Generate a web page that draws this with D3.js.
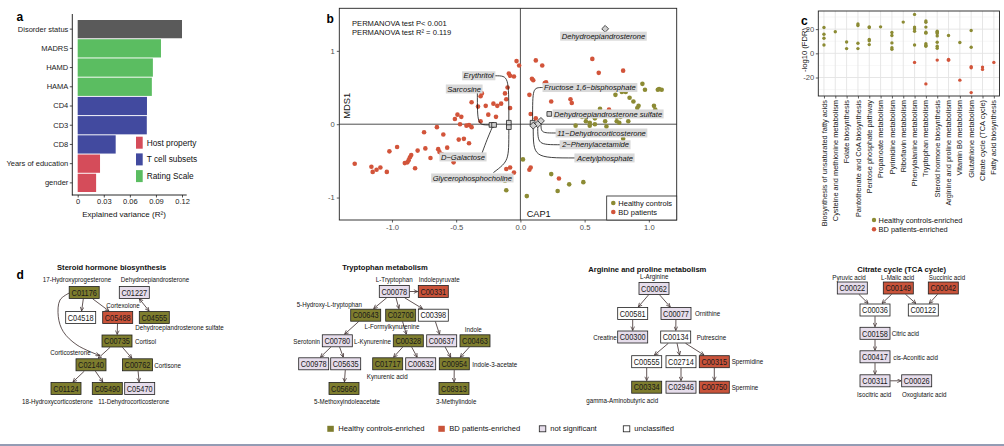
<!DOCTYPE html>
<html><head><meta charset="utf-8">
<script src="https://cdn.jsdelivr.net/npm/d3@7/dist/d3.min.js"></script>
<style>
html,body{margin:0;padding:0;background:#fff;}
svg{display:block;}
text{font-family:"Liberation Sans",Arial,Helvetica,sans-serif;}
</style></head><body>
<svg id="fig" width="1004" height="446" xmlns="http://www.w3.org/2000/svg"></svg>
<script>
// ================= DATA =================
// ---- Panel a ----
const aCategories = ["Disorder status","MADRS","HAMD","HAMA","CD4","CD3","CD8","Years of education","gender"];
const aValues = [0.120,0.0958,0.0865,0.0853,0.0797,0.0795,0.0437,0.0257,0.0212];
const aGroups = ["Disorder","Rating Scale","Rating Scale","Rating Scale","T cell subsets","T cell subsets","T cell subsets","Host property","Host property"];
const aTicks = [0,0.03,0.06,0.09,0.12];
const aLegendGroups = ["Host property","T cell subsets","Rating Scale"];

// ---- Panel b ----
const bPatients = [[-0.03,0.86],[-0.01,0.80],[0.12,0.87],[0.17,0.80],[-0.09,0.69],[-0.08,0.66],[-0.05,0.65],[0.09,0.62],[0.10,0.60],[0.19,0.56],[-0.10,0.50],[0.07,0.40],[0.24,0.31],[-0.12,0.42],[-0.30,0.42],[-0.31,0.38],[-0.38,0.30],[-0.33,0.24],[-0.27,0.25],[-0.21,0.28],[-0.18,0.25],[-0.15,0.28],[-0.11,0.34],[-0.08,0.22],[-0.25,0.13],[-0.19,0.10],[-0.49,0.13],[-0.46,0.10],[-0.51,0.07],[-0.47,0.00],[-0.42,-0.02],[-0.40,-0.01],[-0.38,-0.04],[-0.31,0.04],[-0.65,-0.04],[-0.60,-0.14],[-0.75,-0.11],[-0.48,-0.21],[-0.44,-0.20],[-0.40,-0.26],[-0.96,-0.31],[-1.02,-0.37],[-0.74,-0.33],[-0.64,-0.34],[-0.57,-0.32],[-0.80,-0.36],[-0.63,-0.38],[-0.61,-0.41],[-0.85,-0.42],[-0.86,-0.45],[-0.87,-0.49],[-0.88,-0.52],[-0.90,-0.53],[-0.70,-0.46],[-0.82,-0.60],[-0.52,-0.52],[-1.29,-0.54],[-1.16,-0.58],[-1.15,-0.65],[-1.12,-0.62],[-1.09,-0.59],[-1.04,-0.65],[-0.11,-0.61],[-0.08,-0.59],[-0.05,-0.66],[0.07,-0.62],[0.08,-0.59],[0.30,-0.74],[0.56,0.89],[0.61,0.70],[0.80,0.73],[0.20,0.57],[0.39,0.34],[0.40,0.29],[0.08,0.14],[0.12,0.08],[0.69,0.20]];
const bHealthy = [[-0.12,-0.77],[-0.11,-0.90],[0.02,-0.48],[0.05,-0.98],[0.24,-0.68],[0.29,-0.91],[0.38,-0.82],[0.49,-0.79],[0.80,-0.20],[0.95,0.55],[0.97,0.47],[1.07,0.47],[1.08,0.48],[1.10,0.47],[0.79,0.44],[0.82,0.44],[0.74,0.40],[0.85,0.36],[0.88,0.31],[0.92,0.25],[0.91,0.22],[1.04,0.25],[1.05,0.20],[0.62,0.21],[0.52,0.16],[0.48,0.10],[0.51,0.10],[0.58,0.08],[0.57,0.13],[0.73,0.15],[0.75,0.10],[0.78,0.10],[0.75,0.04],[0.77,0.02],[0.84,0.04],[0.51,0.04],[0.54,0.02],[0.58,0.00],[0.43,-0.02],[0.54,-0.02],[0.67,-0.03],[0.66,0.04],[0.67,0.15]];
const bMetabolites = ["Erythritol","Sarcosine","D\u2212Galactose","Glycerophosphocholine","Fructose 1,6\u2212bisphosphate","Dehydroepiandrosterone sulfate","11\u2212Dehydrocorticosterone","2\u2212Phenylacetamide","Acetylphosphate","Dehydroepiandrosterone"];
const bMetX = [-0.09,-0.225,-0.205,-0.09,0.095,0.225,0.16,0.135,0.10,0.66];
const bMetY = [0.02,-0.01,-0.01,-0.04,0.02,0.14,0.045,0.00,-0.02,1.30];
const bMetShape = ["square","square","square","square","square","square","diamond","diamond","diamond","diamond"];
const bXTicks = [-1,-0.5,0,0.5,1];
const bYTicks = [-1,0,1];
const bStats = ["PERMANOVA test P< 0.001","PERMANOVA test R\u00b2 = 0.119"];
const bGroups = ["Healthy controls","BD patients"];

// ---- Panel c ----
const cCategories = ["Biosynthesis of unsaturated fatty acids","Cysteine and methionine metabolism","Folate biosynthesis","Pantothenate and CoA biosynthesis","Pentose phosphate pathway","Propanoate metabolism","Pyrimidine metabolism","Riboflavin metabolism","Phenylalanine metabolism","Tryptophan metabolism","Steroid hormone biosynthesis","Arginine and proline metabolism","Vitamin B6 metabolism","Glutathione metabolism","Citrate cycle (TCA cycle)","Fatty acid biosynthesis"];
const cHealthy = [[21.4,15.8,12.5,6.9],[17.8],[9.4,3.9],[24.2,23.0,8.3,3.9],[21.9,21.4,11.4,10.3,7.2],[21.9],[17.2,14.7,8.6,4.7,3.3],[25.8],[32.2,21.7,20.3,18.3,6.9],[26.7,25.6,21.7,17.5,16.7,8.0,6.7,5.8],[18.3,17.5,16.4,14.4,9.2,5.8,4.2],[14.7],[8.9],[18.9,5.0],[],[]];
const cPatients = [[],[],[],[],[],[],[],[],[-7.5],[-25.3],[-5.6],[-5.0,-5.8],[-22.2],[-11.1,-11.9,-32.5],[-11.4,-13.3],[-7.5]];
const cYTicks = [-20,0,20];
const cGroups = ["Healthy controls-enriched","BD patients-enriched"];

// ---- Panel d ----
const dPathways = ["Steroid hormone biosynthesis","Tryptophan metabolism","Arginine and proline metabolism","Citrate cycle (TCA cycle)"];
const dStatusLabels = ["Healthy controls-enriched","BD patients-enriched","not significant","unclassified"];
const steroidIds = ["C01176","C01227","C04518","C05488","C04555","C00735","C02140","C00762","C01124","C05490","C05470"];
const steroidStatus = ["H","N","U","B","H","H","H","H","H","H","N"];
const steroidEdges = [["C01176","C04518"],["C01176","C05488"],["C01227","C04555","both"],["C05488","C00735"],["C00735","C02140"],["C00735","C00762"],["C01176","C02140","curve"],["C02140","C01124"],["C02140","C05490"],["C00762","C05470"]];
const steroidNames = ["17-Hydroxyprogesterone","Dehydroepiandrosterone","Cortexolone","Dehydroepiandrosterone sulfate","Cortisol","Corticosterone","Cortisone","18-Hydroxycorticosterone","11-Dehydrocorticosterone"];
const tryptoIds = ["C00078","C00331","C00643","C02700","C00398","C00780","C00328","C00637","C00463","C00978","C05635","C01717","C00632","C00954","C05660","C08313"];
const tryptoStatus = ["N","B","H","H","U","N","H","N","H","N","N","H","N","H","H","H"];
const tryptoEdges = [["C00078","C00331"],["C00078","C00643"],["C00078","C02700"],["C00078","C00398"],["C00643","C00780"],["C02700","C00328"],["C00398","C00637"],["C00780","C00978"],["C00780","C05635"],["C00328","C01717"],["C00328","C00632"],["C00637","C00954"],["C00463","C00954"],["C05635","C05660"],["C00954","C08313"]];
const tryptoNames = ["L-Tryptophan","Indolepyruvate","5-Hydroxy-L-tryptophan","L-Formylkynurenine","Indole","Serotonin","L-Kynurenine","Kynurenic acid","Indole-3-acetate","5-Methoxyindoleacetate","3-Methylindole"];
const arginineIds = ["C00062","C00581","C00077","C00300","C00134","C00555","C02714","C00315","C00334","C02946","C00750"];
const arginineStatus = ["N","U","N","N","U","U","U","B","H","N","B"];
const arginineEdges = [["C00062","C00581"],["C00062","C00077"],["C00581","C00300"],["C00077","C00134"],["C00134","C00555"],["C00134","C02714"],["C00134","C00315"],["C00555","C00334"],["C02714","C02946"],["C00315","C00750"]];
const arginineNames = ["L-Arginine","Ornithine","Creatine","Putrescine","Spermidine","Spermine","gamma-Aminobutyric acid"];
const citrateIds = ["C00022","C00149","C00042","C00036","C00122","C00158","C00417","C00311","C00026"];
const citrateStatus = ["N","B","B","U","U","N","N","N","N"];
const citrateEdges = [["C00022","C00036"],["C00149","C00036"],["C00149","C00122"],["C00042","C00122"],["C00036","C00158"],["C00158","C00417"],["C00417","C00311"],["C00311","C00026"]];
const citrateNames = ["Pyruvic acid","L-Malic acid","Succinic acid","Citric acid","cis-Aconitic acid","Isocitric acid","Oxoglutaric acid"];

// ================= LAYOUT (positions only) =================
const bLabelPos = [[-0.209,0.66,"end"],[-0.306,0.48,"end"],[-0.275,-0.446,"end"],[-0.065,-0.733,"end"],[0.184,0.50,"start"],[0.262,0.14,"start"],[0.286,-0.12,"start"],[0.325,-0.28,"start"],[0.44,-0.46,"start"],[0.647,1.20,"middle"]];
const bLeaderPath = [[-0.197,0.66,-0.09,0.66,-0.09,0.045],[-0.335,0.445,-0.335,-0.01,-0.24,-0.01],[-0.30,-0.40,-0.26,-0.21,-0.215,-0.025],[-0.21,-0.66,-0.09,-0.50,-0.09,-0.065],[0.177,0.50,0.095,0.50,0.095,0.045],[0.16,0.03,0.16,-0.12,0.282,-0.12],[0.135,-0.01,0.135,-0.28,0.32,-0.28],[0.10,-0.03,0.10,-0.46,0.435,-0.46],null,null];

const dNodePos = {
 C01176:[84.2,292.5],C01227:[134.3,292.5],C04518:[80.7,317.5],C05488:[117.7,317.5],C04555:[154.3,317.5],C00735:[117,341],C02140:[91,364.8],C00762:[137.5,364.8],C01124:[66,388.5],C05490:[107.3,388.5],C05470:[139.7,388.5],
 C00078:[394.3,291.5],C00331:[433.3,291.5],C00643:[365.7,315.2],C02700:[400.7,315.2],C00398:[433.3,315.2],C00780:[337.3,340.8],C00328:[408.3,340.8],C00637:[441.7,340.8],C00463:[475,340.8],C00978:[313.7,363.8],C05635:[345.7,363.8],C01717:[387.7,363.8],C00632:[420.7,363.8],C00954:[454.3,363.8],C05660:[344,388.5],C08313:[454,388.5],
 C00062:[654,288.5],C00581:[632.7,313.5],C00077:[676,313.5],C00300:[632.7,337],C00134:[675.7,337],C00555:[646.7,361.7],C02714:[681,361.7],C00315:[714.3,361.7],C00334:[646.7,387.2],C02946:[681,387.2],C00750:[714.3,387.2],
 C00022:[852.3,288],C00149:[898.3,288],C00042:[943.3,288],C00036:[875,310],C00122:[923.3,310],C00158:[875,333.3],C00417:[875,356.8],C00311:[875,380.8],C00026:[916.7,380.8]
};
const steroidNamePos = [[77,279,"middle"],[155,279,"middle"],[123,305,"middle"],[179.5,327.7,"middle"],[135,341,"start"],[70.5,352.3,"middle"],[154.3,364.8,"start"],[57.5,401,"middle"],[133.7,401,"middle"]];
const tryptoNamePos = [[394.2,279,"middle"],[439.2,279,"middle"],[329.3,304.3,"middle"],[392,326.7,"middle"],[473.3,329,"middle"],[320,340.8,"end"],[354,340.8,"start"],[387.2,376.7,"middle"],[472.3,363.8,"start"],[347,401,"middle"],[456.2,401,"middle"]];
const arginineNamePos = [[654.2,276.7,"middle"],[695,313.5,"start"],[616.7,337,"end"],[696.7,337,"start"],[731.7,361.7,"start"],[731.7,387.2,"start"],[622.2,400,"middle"]];
const citrateNamePos = [[849,277.3,"middle"],[897.7,277.3,"middle"],[947,277.3,"middle"],[891.7,333.3,"start"],[893.3,356.8,"start"],[874.2,394.3,"middle"],[924.2,394.3,"middle"]];
const dTitlePos = [[111.7,267.7],[385,267.7],[647.3,269],[901.7,269]];
const steroidCurve = [[69.3,293],[60,300],[58.3,316.7],[63.3,331.7],[77,345],[99.5,355.5]];

// ================= DRAW =================
const svg = d3.select("#fig");
svg.append("rect").attr("width",1004).attr("height",446).attr("fill","#fff");
const C_H = "#8C8B34", C_B = "#D2543A";

// ---------- Panel a ----------
(function(){
  const g = svg.append("g");
  const x = d3.scaleLinear().domain([-0.0062,0.1254]).range([72.3,186.7]);
  const y = d3.scaleBand().domain(aCategories).range([14,195]).paddingInner(0.05).paddingOuter(0.234).align(0.667);
  const col = d3.scaleOrdinal().domain(["Disorder","Host property","T cell subsets","Rating Scale"]).range(["#5A5A5A","#D54C5A","#424A9F","#5BBD61"]);
  g.selectAll("rect.bar").data(aCategories).join("rect").attr("class","bar")
    .attr("x",x(0)).attr("y",d=>y(d)).attr("height",y.bandwidth())
    .attr("width",(d,i)=>x(aValues[i])-x(0)).attr("fill",(d,i)=>col(aGroups[i]));
  const xa = g.append("g").attr("transform","translate(0,195)")
    .call(d3.axisBottom(x).tickValues(aTicks).tickFormat(d=>d===0?"0":d.toFixed(2)).tickSize(2.5).tickSizeOuter(0).tickPadding(1.5));
  const ya = g.append("g").attr("transform","translate(72.3,0)")
    .call(d3.axisLeft(y).tickSize(2.5).tickSizeOuter(0).tickPadding(1.5));
  [xa,ya].forEach(a=>{a.select(".domain").remove();a.selectAll("line").attr("stroke","#222").attr("stroke-width",0.8);
    a.selectAll("text").attr("fill","#1a1a1a").style("font-size","7.5px");});
  g.append("line").attr("x1",72.3).attr("x2",72.3).attr("y1",14).attr("y2",195.4).attr("stroke","#111").attr("stroke-width",0.9);
  g.append("line").attr("x1",71.9).attr("x2",186.7).attr("y1",195).attr("y2",195).attr("stroke","#111").attr("stroke-width",0.9);
  g.append("text").attr("x",124).attr("y",216.5).attr("text-anchor","middle").style("font-size","8px").attr("fill","#111")
    .text("Explained variance (R\u00b2)");
  const lg = g.selectAll("g.lg").data(aLegendGroups).join("g").attr("class","lg")
    .attr("transform",(d,i)=>`translate(136,${136.7+i*16.7})`);
  lg.append("rect").attr("width",6.7).attr("height",12).attr("fill",d=>col(d));
  lg.append("text").attr("x",10.7).attr("y",6).attr("dy","0.35em").style("font-size","8.3px").attr("fill","#111").text(d=>d);
  g.append("text").attr("x",16.5).attr("y",20.8).style("font-size","12px").style("font-weight","bold").text("a");
})();

// ---------- Panel b ----------
(function(){
  const g = svg.append("g");
  const x = d3.scaleLinear().domain([-1.41,1.217]).range([339.3,676.7]);
  const y = d3.scaleLinear().domain([-1.306,1.58]).range([220,8.3]);
  const [x0,x1] = x.range(), [y0,y1] = y.range();
  g.append("line").attr("x1",x(0)).attr("x2",x(0)).attr("y1",y1).attr("y2",y0).attr("stroke","#222").attr("stroke-width",0.8);
  g.append("line").attr("x1",x0).attr("x2",x1).attr("y1",y(0)).attr("y2",y(0)).attr("stroke","#222").attr("stroke-width",0.8);
  g.selectAll("circle.p").data(bPatients).join("circle").attr("class","p")
    .attr("cx",d=>x(d[0])).attr("cy",d=>y(d[1])).attr("r",2.3).attr("fill",C_B);
  g.selectAll("circle.h").data(bHealthy).join("circle").attr("class","h")
    .attr("cx",d=>x(d[0])).attr("cy",d=>y(d[1])).attr("r",2.3).attr("fill",C_H);
  bLeaderPath.forEach(p=>{
    if(!p) return;
    g.append("path").attr("d",`M${x(p[0])},${y(p[1])}C${x(p[2])},${y(p[3])} ${x(p[2])},${y(p[3])} ${x(p[4])},${y(p[5])}`)
      .attr("fill","none").attr("stroke","#111").attr("stroke-width",0.8);
  });
  bMetabolites.forEach((m,i)=>{
    const sym = bMetShape[i]==="square" ? d3.symbol(d3.symbolSquare,22) : d3.symbol(d3.symbolDiamond2,30);
    g.append("path").attr("d",sym()).attr("transform",`translate(${x(bMetX[i])},${y(bMetY[i])})`)
      .attr("fill","#cfcfcf").attr("stroke","#222").attr("stroke-width",0.8);
  });
  bMetabolites.forEach((m,i)=>{
    const lp = bLabelPos[i];
    const lgp = g.append("g");
    const t = lgp.append("text").attr("x",x(lp[0])).attr("y",y(lp[1])).attr("dy","0.35em")
      .attr("text-anchor",lp[2]).style("font-size","7.6px").style("font-style","italic").attr("fill","#111").text(m);
    const bb = t.node().getBBox();
    lgp.insert("rect","text").attr("x",bb.x-1.5).attr("y",y(lp[1])-4.5).attr("width",bb.width+3).attr("height",9).attr("fill","#d9d9d9");
  });
  g.append("rect").attr("x",x0).attr("y",y1).attr("width",x1-x0).attr("height",y0-y1).attr("fill","none").attr("stroke","#222").attr("stroke-width",0.9);
  const xa = g.append("g").attr("transform",`translate(0,${y0})`)
    .call(d3.axisBottom(x).tickValues(bXTicks).tickFormat(d=>d.toFixed(1)).tickSize(2.5).tickSizeOuter(0).tickPadding(2));
  const ya = g.append("g").attr("transform",`translate(${x0},0)`)
    .call(d3.axisLeft(y).tickValues(bYTicks).tickFormat(d=>String(d)).tickSize(2.5).tickSizeOuter(0).tickPadding(2));
  [xa,ya].forEach(a=>{a.select(".domain").remove();a.selectAll("line").attr("stroke","#333").attr("stroke-width",0.8);
    a.selectAll("text").attr("fill","#4d4d4d").style("font-size","7.6px");});
  bStats.forEach((s,i)=>g.append("text").attr("x",352).attr("y",26+i*9).style("font-size","7.6px").attr("fill","#111").text(s));
  g.append("text").attr("transform","translate(350.3,105.7) rotate(-90)").attr("text-anchor","middle").style("font-size","9.4px").attr("fill","#111").text("MDS1");
  g.append("text").attr("x",526.7).attr("y",216.7).style("font-size","9.2px").attr("fill","#111").text("CAP1");
  g.append("rect").attr("x",606.7).attr("y",196).attr("width",x1-606.7).attr("height",24).attr("fill","#fff").attr("stroke","#222").attr("stroke-width",0.8);
  bGroups.forEach((s,i)=>{
    g.append("circle").attr("cx",613.3).attr("cy",203+i*9).attr("r",2.3).attr("fill",i===0?C_H:C_B);
    g.append("text").attr("x",618.3).attr("y",203+i*9).attr("dy","0.35em").style("font-size","7.5px").attr("fill","#111").text(s);
  });
  g.append("text").attr("x",326.5).attr("y",22.7).style("font-size","12px").style("font-weight","bold").text("b");
})();

// ---------- Panel c ----------
(function(){
  const g = svg.append("g");
  const x = d3.scalePoint().domain(cCategories).range([818.3,999.5]).padding(0.5);
  const y = d3.scaleLinear().domain([-35.3,35]).range([96,11]);
  const [y0,y1] = y.range();
  [-30,-10,10,30].forEach(v=>g.append("line").attr("x1",818.3).attr("x2",999.5).attr("y1",y(v)).attr("y2",y(v)).attr("stroke","#efefef").attr("stroke-width",0.5));
  cYTicks.forEach(v=>g.append("line").attr("x1",818.3).attr("x2",999.5).attr("y1",y(v)).attr("y2",y(v)).attr("stroke","#e3e3e3").attr("stroke-width",0.9));
  g.selectAll("line.vg").data(cCategories).join("line").attr("class","vg").attr("x1",d=>x(d)).attr("x2",d=>x(d)).attr("y1",y1).attr("y2",y0).attr("stroke","#e3e3e3").attr("stroke-width",0.9);
  cCategories.forEach((c,i)=>{
    cHealthy[i].forEach(v=>g.append("circle").attr("cx",x(c)).attr("cy",y(v)).attr("r",1.7).attr("fill",C_H));
    cPatients[i].forEach(v=>g.append("circle").attr("cx",x(c)).attr("cy",y(v)).attr("r",1.7).attr("fill",C_B));
  });
  g.append("rect").attr("x",818.3).attr("y",y1).attr("width",999.5-818.3).attr("height",y0-y1).attr("fill","none").attr("stroke","#222").attr("stroke-width",0.9);
  const xa = g.append("g").attr("transform",`translate(0,${y0})`).call(d3.axisBottom(x).tickSize(2.5).tickSizeOuter(0).tickFormat(""));
  const ya = g.append("g").attr("transform","translate(818.3,0)").call(d3.axisLeft(y).tickValues(cYTicks).tickFormat(d=>String(d)).tickSize(2.5).tickSizeOuter(0).tickPadding(1.5));
  [xa,ya].forEach(a=>{a.select(".domain").remove();a.selectAll("line").attr("stroke","#333").attr("stroke-width",0.8);
    a.selectAll("text").attr("fill","#4d4d4d").style("font-size","7.6px");});
  g.selectAll("text.xl").data(cCategories).join("text").attr("class","xl")
    .attr("transform",d=>`translate(${x(d)+2.6},${y0+4}) rotate(-90)`).attr("text-anchor","end")
    .style("font-size","7.4px").attr("fill","#1a1a1a").text(d=>d);
  g.append("text").attr("transform","translate(806.5,50) rotate(-90)").attr("text-anchor","middle").style("font-size","7.6px").attr("fill","#111").text("-log10 (FDR)");
  cGroups.forEach((s,i)=>{
    g.append("circle").attr("cx",874).attr("cy",220+i*9.3).attr("r",2.2).attr("fill",i===0?C_H:C_B);
    g.append("text").attr("x",878.6).attr("y",220+i*9.3).attr("dy","0.35em").style("font-size","7.4px").attr("fill","#111").text(s);
  });
  g.append("text").attr("x",801).attr("y",25).style("font-size","12px").style("font-weight","bold").text("c");
})();

// ---------- Panel d ----------
(function(){
  const g = svg.append("g");
  const fillOf = {H:"#7E7D2E",B:"#C9533A",N:"#E6DDEB",U:"#FFFFFF"};
  const statusKeys = ["H","B","N","U"];
  const NARROW = 0.82;
  const defs = svg.append("defs");
  defs.append("marker").attr("id","arr").attr("viewBox","0 0 6 6").attr("refX",5.6).attr("refY",3)
    .attr("markerWidth",4.6).attr("markerHeight",4.6).attr("markerUnits","userSpaceOnUse").attr("orient","auto-start-reverse")
    .append("path").attr("d","M0.6,0.6L5.6,3L0.6,5.4").attr("fill","none").attr("stroke","#3a2a2a").attr("stroke-width",0.9);
  const HW=15, HH=6;
  function clip(c,o,hw,hh){const dx=o[0]-c[0],dy=o[1]-c[1];
    const t=Math.min(dx?hw/Math.abs(dx):Infinity, dy?hh/Math.abs(dy):Infinity);return [c[0]+dx*t,c[1]+dy*t];}
  function narrowText(parent,x,y,anchor,size,txt){
    return parent.append("text").attr("transform",`translate(${x},${y}) scale(${NARROW},1)`)
      .attr("dy","0.36em").attr("text-anchor",anchor).style("font-size",size+"px").attr("fill","#111").text(txt);
  }
  const pathways = [
    {ids:steroidIds,status:steroidStatus,edges:steroidEdges,names:steroidNames,npos:steroidNamePos},
    {ids:tryptoIds,status:tryptoStatus,edges:tryptoEdges,names:tryptoNames,npos:tryptoNamePos},
    {ids:arginineIds,status:arginineStatus,edges:arginineEdges,names:arginineNames,npos:arginineNamePos},
    {ids:citrateIds,status:citrateStatus,edges:citrateEdges,names:citrateNames,npos:citrateNamePos}
  ];
  pathways.forEach((pw,k)=>{
    const pg = g.append("g");
    pg.append("text").attr("x",dTitlePos[k][0]).attr("y",dTitlePos[k][1]).attr("dy","0.35em").attr("text-anchor","middle")
      .style("font-size","7.6px").style("font-weight","bold").attr("fill","#111").text(dPathways[k]);
    pw.edges.forEach(e=>{
      const a=dNodePos[e[0]], b=dNodePos[e[1]];
      if(e[2]==="curve"){
        pg.append("path").attr("d",d3.line().curve(d3.curveCatmullRom)(steroidCurve)).attr("fill","none")
          .attr("stroke","#3a2a2a").attr("stroke-width",0.8).attr("marker-end","url(#arr)");
        return;
      }
      const s=clip(a,b,HW+0.3,HH+0.3), t=clip(b,a,HW+0.6,HH+0.6);
      const ln = pg.append("line").attr("x1",s[0]).attr("y1",s[1]).attr("x2",t[0]).attr("y2",t[1])
        .attr("stroke","#3a2a2a").attr("stroke-width",0.8).attr("marker-end","url(#arr)");
      if(e[2]==="both") ln.attr("marker-start","url(#arr)");
    });
    pw.ids.forEach((id,i)=>{
      const p=dNodePos[id];
      pg.append("rect").attr("x",p[0]-HW).attr("y",p[1]-HH).attr("width",2*HW).attr("height",2*HH)
        .attr("fill",fillOf[pw.status[i]]).attr("stroke","#1e1e1e").attr("stroke-width",0.8);
      narrowText(pg,p[0],p[1],"middle",9,id).attr("fill","#1a1a1a");
    });
    pw.names.forEach((n,i)=>{
      const p=pw.npos[i];
      narrowText(pg,p[0],p[1],p[2],7.6,n);
    });
  });
  const lx = [327.3,438.3,539.3,623.3];
  dStatusLabels.forEach((s,i)=>{
    g.append("rect").attr("x",lx[i]).attr("y",425.8).attr("width",6.5).attr("height",6).attr("fill",fillOf[statusKeys[i]])
      .attr("stroke",statusKeys[i]==="H"||statusKeys[i]==="B"?"none":"#1e1e1e").attr("stroke-width",0.8);
    g.append("text").attr("x",lx[i]+11).attr("y",428.8).attr("dy","0.35em").style("font-size","7.6px").attr("fill","#111").text(s);
  });
  g.append("text").attr("x",16.5).attr("y",279).style("font-size","12px").style("font-weight","bold").text("d");
  g.append("line").attr("x1",0).attr("x2",1004).attr("y1",445).attr("y2",445).attr("stroke","#2B3A6B").attr("stroke-width",1.2);
})();
</script>
</body></html>
